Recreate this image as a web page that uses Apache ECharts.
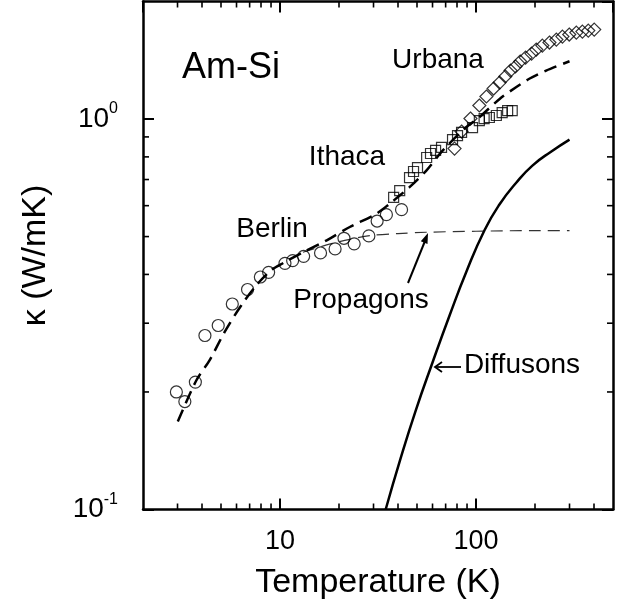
<!DOCTYPE html>
<html>
<head>
<meta charset="utf-8">
<script src="https://cdn.jsdelivr.net/npm/echarts@6/dist/echarts.min.js"></script>
<style>
html, body { margin: 0; padding: 0; background: #fff; }
#chart { width: 621px; height: 606px; }
</style>
</head>
<body>
<div id="chart"></div>
<script>
// data (T in K, kappa in W/mK)
var berlinT = [2.96, 3.27, 3.70, 4.14, 4.84, 5.71, 6.83, 7.94, 8.75, 10.6, 11.6, 13.2, 16.1, 19.1, 21.2, 23.9, 28.4, 31.3, 34.9, 41.7];
var berlinK = [0.200, 0.189, 0.212, 0.279, 0.296, 0.336, 0.366, 0.394, 0.405, 0.427, 0.434, 0.445, 0.454, 0.465, 0.495, 0.479, 0.502, 0.548, 0.569, 0.586];

var ithacaT = [38.0, 40.8, 45.8, 48.0, 50.3, 56.0, 58.6, 62.2, 66.7, 75.9, 80.5, 84.4, 96.0, 104, 110, 117, 127, 136, 145, 153];
var ithacaK = [0.630, 0.656, 0.708, 0.734, 0.751, 0.797, 0.816, 0.831, 0.846, 0.886, 0.907, 0.924, 0.951, 0.991, 1.003, 1.009, 1.021, 1.039, 1.051, 1.051];

var urbanaT = [77.7, 84.4, 93.7, 104, 113, 123, 132, 141, 150, 159, 168, 179, 192, 203, 218, 237, 257, 276, 299, 325, 349, 374, 401];
var urbanaK = [0.840, 0.929, 1.003, 1.083, 1.142, 1.197, 1.240, 1.285, 1.331, 1.363, 1.404, 1.437, 1.471, 1.506, 1.542, 1.570, 1.598, 1.626, 1.646, 1.665, 1.675, 1.685, 1.695];

var totalT = [3.01, 3.74, 4.37, 5.22, 6.34, 7.71, 9.01, 10.4, 13.1, 17.3, 22.7, 31.0, 36.3, 40.8, 45.8, 55.8, 67.7, 89.1, 104, 132, 160, 187, 228, 300];
var totalK = [0.168, 0.214, 0.241, 0.285, 0.333, 0.379, 0.410, 0.428, 0.456, 0.489, 0.529, 0.572, 0.607, 0.637, 0.669, 0.738, 0.831, 0.953, 1.011, 1.126, 1.206, 1.268, 1.331, 1.406];

var propT = [13.1, 17.3, 22.7, 28.7, 40, 56, 100, 200, 300];
var propK = [0.456, 0.476, 0.492, 0.503, 0.509, 0.513, 0.516, 0.518, 0.518];

var diffT = [34.6, 41.2, 49.2, 60.0, 73.3, 89.4, 110.5, 131.7, 160.8, 194.0, 242.4, 300];
var diffK = [0.100, 0.135, 0.179, 0.238, 0.314, 0.407, 0.519, 0.604, 0.688, 0.760, 0.826, 0.886];

var xMin = 2, xMax = 500, yMin = 0.1, yMax = 2;
var minorX = [3, 4, 5, 6, 7, 8, 9, 20, 30, 40, 50, 60, 70, 80, 90, 200, 300, 400];
var minorY = [0.2, 0.3, 0.4, 0.5, 0.6, 0.7, 0.8, 0.9];

var FONT = 'Liberation Sans, Arial, Helvetica, sans-serif';

function pairs(xs, ys) {
    return xs.map(function (x, i) { return [x, ys[i]]; });
}
function isPow10(v) {
    var e = Math.round(Math.log10(v));
    return Math.abs(v - Math.pow(10, e)) < 1e-6 * Math.pow(10, e) ? e : null;
}

var chart = echarts.init(document.getElementById('chart'), null, { renderer: 'canvas' });

var hollow = { color: 'rgba(0,0,0,0)', borderColor: '#000', borderWidth: 1.2 };
var tickLine = { color: '#000', width: 2 };

var option = {
    animation: false,
    backgroundColor: '#fff',
    grid: { left: 143, top: 1.5, width: 470, height: 508, outerBoundsMode: 'none' },
    xAxis: [{
        type: 'log', logBase: 10, min: xMin, max: xMax,
        position: 'bottom',
        name: 'Temperature (K)', nameLocation: 'middle', nameGap: 56,
        nameTextStyle: { fontSize: 34, fontFamily: FONT, color: '#000' },
        axisLine: { show: true, onZero: false, lineStyle: { color: '#000', width: 2.5 } },
        axisTick: { show: true, inside: true, length: 11, lineStyle: tickLine },
        axisLabel: {
            margin: 19, fontSize: 27, fontFamily: FONT, color: '#000',
            showMinLabel: false, showMaxLabel: false,
            formatter: function (v) { return isPow10(v) !== null ? String(Math.round(v)) : ''; }
        },
        splitLine: { show: false }
    }, {
        type: 'log', logBase: 10, min: xMin, max: xMax,
        position: 'top',
        axisLine: { show: true, onZero: false, lineStyle: { color: '#000', width: 2.5 } },
        axisTick: { show: true, inside: true, length: 11, lineStyle: tickLine },
        axisLabel: { show: false },
        splitLine: { show: false }
    }],
    yAxis: [{
        type: 'log', logBase: 10, min: yMin, max: yMax,
        position: 'left',
        name: 'κ (W/mK)', nameLocation: 'middle', nameGap: 90, nameRotate: 90,
        nameTextStyle: { fontSize: 34, fontFamily: FONT, color: '#000' },
        axisLine: { show: true, onZero: false, lineStyle: { color: '#000', width: 2.5 } },
        axisTick: { show: true, inside: true, length: 11, lineStyle: tickLine },
        axisLabel: {
            margin: 25, color: '#000', fontFamily: FONT,
            showMaxLabel: false,
            formatter: function (v) {
                var e = isPow10(v);
                return e === null ? '' : '{b|10}{s|' + e + '}';
            },
            rich: {
                b: { fontSize: 28, fontFamily: FONT, color: '#000' },
                s: { fontSize: 16, fontFamily: FONT, color: '#000', padding: [0, 0, 20, 0] }
            }
        },
        splitLine: { show: false }
    }, {
        type: 'log', logBase: 10, min: yMin, max: yMax,
        position: 'right',
        axisLine: { show: true, onZero: false, lineStyle: { color: '#000', width: 2.5 } },
        axisTick: { show: true, inside: true, length: 11, lineStyle: tickLine },
        axisLabel: { show: false },
        splitLine: { show: false }
    }],
    series: [
        {
            name: 'Total', type: 'line', smooth: 0.3, symbol: 'none',
            data: pairs(totalT, totalK),
            lineStyle: { color: '#000', width: 2.5, type: [13, 7] }, z: 3
        },
        {
            name: 'Propagons', type: 'line', smooth: 0.3, symbol: 'none',
            data: pairs(propT, propK),
            lineStyle: { color: '#333', width: 1.2, type: [12, 7] }, z: 2
        },
        {
            name: 'Diffusons', type: 'line', smooth: 0.5, symbol: 'none',
            data: pairs(diffT, diffK),
            lineStyle: { color: '#000', width: 2.5 }, z: 3
        },
        {
            name: 'Berlin', type: 'scatter', symbol: 'circle', symbolSize: 12,
            data: pairs(berlinT, berlinK), itemStyle: hollow, z: 4
        },
        {
            name: 'Ithaca', type: 'scatter', symbol: 'rect', symbolSize: 10,
            data: pairs(ithacaT, ithacaK), itemStyle: hollow, z: 4
        },
        {
            name: 'Urbana', type: 'scatter', symbol: 'diamond', symbolSize: 13,
            data: pairs(urbanaT, urbanaK), itemStyle: hollow, z: 4
        },
        {
            // minor ticks on bottom / top axes
            type: 'custom', silent: true, z: 5,
            data: minorX.map(function (v) { return [v, 1]; }),
            renderItem: function (params, api) {
                var v = api.value(0);
                var b = api.coord([v, yMin]);
                var t = api.coord([v, yMax]);
                var st = { stroke: '#000', lineWidth: 1.6 };
                return { type: 'group', children: [
                    { type: 'line', shape: { x1: b[0], y1: b[1], x2: b[0], y2: b[1] - 6 }, style: st },
                    { type: 'line', shape: { x1: t[0], y1: t[1], x2: t[0], y2: t[1] + 6 }, style: st }
                ] };
            }
        },
        {
            // minor ticks on left / right axes
            type: 'custom', silent: true, z: 5,
            data: minorY.map(function (v) { return [10, v]; }),
            renderItem: function (params, api) {
                var v = api.value(1);
                var l = api.coord([xMin, v]);
                var r = api.coord([xMax, v]);
                var st = { stroke: '#000', lineWidth: 1.6 };
                return { type: 'group', children: [
                    { type: 'line', shape: { x1: l[0], y1: l[1], x2: l[0] + 6, y2: l[1] }, style: st },
                    { type: 'line', shape: { x1: r[0], y1: r[1], x2: r[0] - 6, y2: r[1] }, style: st }
                ] };
            }
        }
    ],
    graphic: [
        { type: 'text', x: 231, y: 68, style: { text: 'Am-Si', font: '36px ' + FONT, fill: '#000', align: 'center', verticalAlign: 'middle' } },
        { type: 'text', x: 438, y: 60, style: { text: 'Urbana', font: '28px ' + FONT, fill: '#000', align: 'center', verticalAlign: 'middle' } },
        { type: 'text', x: 347, y: 157, style: { text: 'Ithaca', font: '28px ' + FONT, fill: '#000', align: 'center', verticalAlign: 'middle' } },
        { type: 'text', x: 272, y: 229, style: { text: 'Berlin', font: '28px ' + FONT, fill: '#000', align: 'center', verticalAlign: 'middle' } },
        { type: 'text', x: 361, y: 300, style: { text: 'Propagons', font: '28px ' + FONT, fill: '#000', align: 'center', verticalAlign: 'middle' } },
        { type: 'text', x: 522, y: 365, style: { text: 'Diffusons', font: '28px ' + FONT, fill: '#000', align: 'center', verticalAlign: 'middle' } },
        // arrow to propagons curve
        { type: 'line', shape: { x1: 408, y1: 283, x2: 425, y2: 241 }, style: { stroke: '#000', lineWidth: 2 } },
        { type: 'polygon', shape: { points: [[428, 233], [427.5, 244], [420.8, 241.2]] }, style: { fill: '#000' } },
        // arrow to diffusons curve
        { type: 'line', shape: { x1: 436, y1: 367, x2: 461, y2: 367 }, style: { stroke: '#000', lineWidth: 1.8 } },
        { type: 'polyline', shape: { points: [[442, 362], [435, 367], [442, 372]] }, style: { stroke: '#000', lineWidth: 1.8, fill: null } }
    ]
};

chart.setOption(option);
</script>
</body>
</html>
